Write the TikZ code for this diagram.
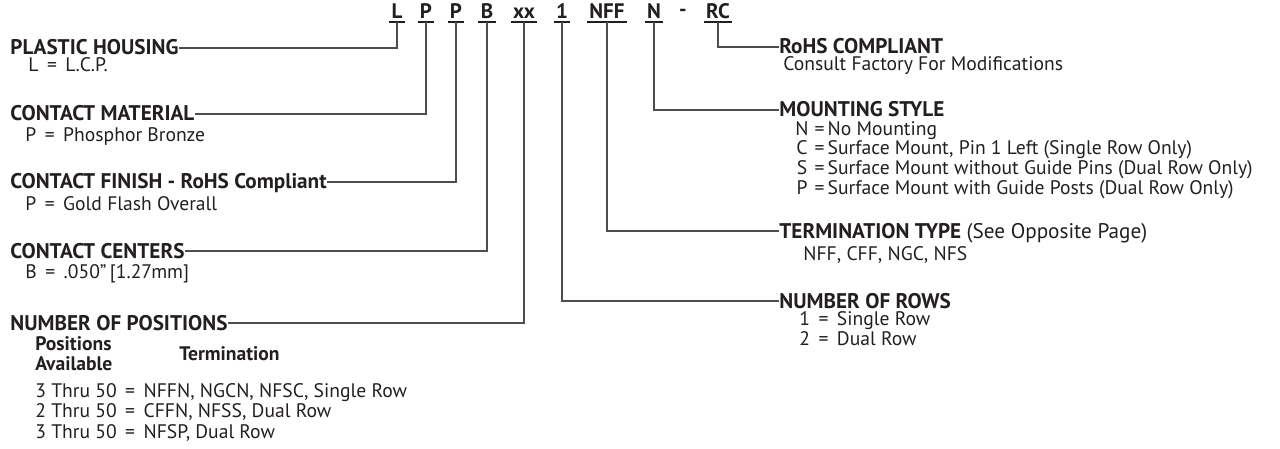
\documentclass[tikz,border=0pt]{standalone}
\usepackage{fontspec}
\setmainfont{PT Sans}
\usetikzlibrary{positioning}

\definecolor{ink}{HTML}{231F20}
\definecolor{lead}{HTML}{4D4D4D}

\newcommand\codefont{\fontsize{10.5}{12}\selectfont\bfseries}
\newcommand\headfont{\fontsize{10.6}{11}\selectfont\bfseries}
\newcommand\itemfont{\fontsize{9.8}{10.4}\selectfont}

\tikzset{
  code/.style={font=\codefont, text=ink, inner xsep=1pt, inner ysep=1.5pt, text height=7pt, text depth=0pt},
  head/.style={font=\headfont, text=ink, inner sep=0pt, text height=7pt, text depth=0pt, anchor=west},
  item/.style={font=\itemfont, text=ink, inner sep=0pt, anchor=base west},
  leader/.style={draw=lead, line width=0.55pt},
  uline/.style={draw=ink, line width=1pt}
}

\begin{document}
\begin{tikzpicture}[x=0.5pt,y=-0.5pt]
\useasboundingbox (0,0) rectangle (1280,449);

% part number
\node (cL) [code] at (397,12) {L};
\node (cP1) [code] at (426,12) {P};
\node (cP2) [code] at (456,12) {P};
\node (cB) [code] at (487,12) {B};
\node (cXX) [code] at (524,12) {xx};
\node (cOne) [code] at (562,12) {1};
\node (cNFF) [code] at (607,12) {NFF};
\node (cN) [code] at (654,12) {N};
\node (cDash) [code, text height=5pt] at (683,12) {-};
\node (cRC) [code] at (718,12) {RC};
\foreach \n in {cL,cP1,cP2,cB,cXX,cOne,cNFF,cN,cRC}
  \draw [uline] (\n.south west) -- (\n.south east);

% left column
\node (hHousing) [head] at (10,48) {PLASTIC HOUSING\hspace{3.5pt}};
\node (tHousing) [item] at (28,72) {L \,=\, L.C.P.};

\node (hMaterial) [head] at (10,114) {CONTACT MATERIAL};
\node (tMaterial) [item] at (25,141) {P \,=\, Phosphor Bronze};

\node (hFinish) [head] at (10,182) {CONTACT FINISH - RoHS Compliant\hspace{7pt}};
\node (tFinish) [item] at (25,210) {P \,=\, Gold Flash Overall};

\node (hCenters) [head] at (10,251) {CONTACT CENTERS};
\node (tCenters) [item] at (25,278) {B \,=\, .050”\,[1.27mm]};

\node (hPositions) [head] at (10,323) {NUMBER OF POSITIONS\hspace{2pt}};
\node (pAvail) [item, font=\itemfont\bfseries] at (35,350)
  {\begin{tabular}[t]{@{}l@{}}Positions\\Available\end{tabular}};
\node (pTerm) [item, font=\itemfont\bfseries] at (179,360) {Termination};
\node (pList) [item] at (35,397) {\begin{tabular}[t]{@{}l@{}}
  3 Thru 50 \,=\, NFFN, NGCN, NFSC, Single Row\\
  2 Thru 50 \,=\, CFFN, NFSS, Dual Row\\
  3 Thru 50 \,=\, NFSP, Dual Row
\end{tabular}};

% right column
\node (hRohs) [head] at (779,47) {RoHS COMPLIANT};
\node (tRohs) [item] at (783,71) {Consult Factory For Modifications};

\node (hMounting) [head] at (779,110) {MOUNTING STYLE};
\node (tMounting) [item, font=\fontsize{9.8}{9.75}\selectfont] at (795,135) {\begin{tabular}[t]{@{}c@{\hspace{3pt}}l@{}}
  N & =\,No Mounting\\
  C & =\,Surface Mount, Pin 1 Left (Single Row Only)\\
  S & =\,Surface Mount without Guide Pins (Dual Row Only)\\
  P & =\,Surface Mount with Guide Posts (Dual Row Only)
\end{tabular}};

\node (hTermination) [head] at (779,231) {TERMINATION TYPE \textmd{(See Opposite Page)}};
\node (tTermination) [item] at (803,260) {NFF, CFF, NGC, NFS};

\node (hRows) [head] at (779,301) {NUMBER OF ROWS};
\node (tRows) [item] at (799,325) {\begin{tabular}[t]{@{}l@{}}
  1 \,=\, Single Row\\
  2 \,=\, Dual Row
\end{tabular}};

% leaders
\draw [leader] (cL.south) |- (hHousing.east);
\draw [leader] (cP1.south) |- (hMaterial.east);
\draw [leader] (cP2.south) |- (hFinish.east);
\draw [leader] (cB.south) |- (hCenters.east);
\draw [leader] (cXX.south) |- (hPositions.east);
\draw [leader] (cOne.south) |- (hRows.west);
\draw [leader] (cNFF.south) |- (hTermination.west);
\draw [leader] (cN.south) |- (hMounting.west);
\draw [leader] (cRC.south) |- (hRohs.west);

\end{tikzpicture}
\end{document}
